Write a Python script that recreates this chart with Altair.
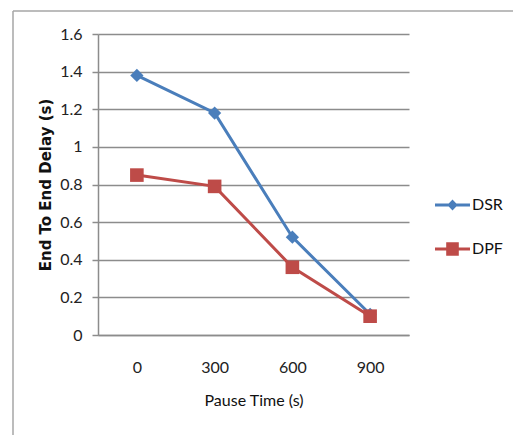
import altair as alt
import pandas as pd

# Average end-to-end delay of two routing protocols against pause time
pause_time = ["0", "300", "600", "900"]
dsr_delay = [1.38, 1.18, 0.52, 0.11]
dpf_delay = [0.85, 0.79, 0.36, 0.10]
protocols = ["DSR", "DPF"]
colors = ["#4a7ebb", "#be4b48"]
marker_shapes = ["diamond", "square"]
marker_sizes = [175, 185]
y_ticks = [0, 0.2, 0.4, 0.6, 0.8, 1.0, 1.2, 1.4, 1.6]

rows = []
for name, series in zip(protocols, [dsr_delay, dpf_delay]):
    for t, v in zip(pause_time, series):
        rows.append({"protocol": name, "pause": t, "delay": v})
df = pd.DataFrame(rows)

LABEL_FONT = "Lato"
GRID = "#8c8c8c"

# Legend glyphs: a short line segment with the series marker on top
legend_glyphs = [
    "M-1,-0.09H1V0.09H-1Z M0,-0.32L0.3,0L0,0.32L-0.3,0Z",
    "M-1,-0.09H1V0.09H-1Z M-0.36,-0.38H0.36V0.38H-0.36Z",
]

x_enc = alt.X(
    "pause:N",
    sort=pause_time,
    scale=alt.Scale(type="point", padding=0.5),
    axis=alt.Axis(
        title="Pause Time (s)",
        labelAngle=0,
        ticks=False,
        grid=False,
        domainColor=GRID,
        domainWidth=1.5,
        labelPadding=24,
        labelFont=LABEL_FONT,
        labelFontSize=16,
        labelColor="#222",
        titleFont=LABEL_FONT,
        titleFontSize=16,
        titleFontWeight="normal",
        titleColor="#111",
        titlePadding=17,
    ),
)
y_enc = alt.Y(
    "delay:Q",
    scale=alt.Scale(domain=[0, 1.6], nice=False),
    axis=alt.Axis(
        title="End To End Delay (s)",
        values=y_ticks,
        format="~g",
        grid=True,
        gridColor=GRID,
        gridWidth=1.5,
        domainColor=GRID,
        domainWidth=1.5,
        tickColor=GRID,
        tickWidth=1.5,
        tickSize=6,
        labelPadding=10,
        labelFont=LABEL_FONT,
        labelFontSize=16,
        labelColor="#222",
        titleFont="DejaVu Sans",
        titleFontSize=15,
        titleFontWeight="bold",
        titleColor="#111",
        titleX=-53,
        titleY=150.5,
        titleAlign="center",
        titleBaseline="middle",
    ),
)
color_scale = alt.Scale(domain=protocols, range=colors)

lines = alt.Chart(df).mark_line(strokeWidth=3).encode(
    x=x_enc,
    y=y_enc,
    color=alt.Color("protocol:N", scale=color_scale, legend=None),
)

points = alt.Chart(df).mark_point(filled=True, opacity=1).encode(
    x=x_enc,
    y=y_enc,
    color=alt.Color("protocol:N", scale=color_scale, legend=None),
    shape=alt.Shape("protocol:N", scale=alt.Scale(domain=protocols, range=marker_shapes), legend=None),
    size=alt.Size("protocol:N", scale=alt.Scale(domain=protocols, range=marker_sizes), legend=None),
)

legend_spec = alt.Legend(
    title=None,
    orient="none",
    legendX=337,
    legendY=153.5,
    padding=0,
    symbolSize=1225,
    symbolStrokeWidth=0,
    rowPadding=18,
    labelOffset=2,
    labelFont=LABEL_FONT,
    labelFontSize=16,
    labelColor="#111",
)
legend_layer = (
    alt.Chart(df)
    .transform_filter("false")
    .mark_point(filled=True, opacity=1)
    .encode(
        x=x_enc,
        y=y_enc,
        color=alt.Color("protocol:N", scale=color_scale, legend=legend_spec),
        shape=alt.Shape("protocol:N", scale=alt.Scale(domain=protocols, range=legend_glyphs), legend=legend_spec),
    )
)

# Chart-area frame (left and top edges)
frame = alt.Data(values=[{}])
frame_left = alt.Chart(frame).mark_rule(color="#a6a6a6", strokeWidth=1.5).encode(
    x=alt.value(-85), y=alt.value(-23), y2=alt.value(401)
)
frame_top = alt.Chart(frame).mark_rule(color="#a6a6a6", strokeWidth=1.5).encode(
    x=alt.value(-85), x2=alt.value(415), y=alt.value(-23)
)

chart = (
    alt.layer(frame_left, frame_top, lines, points, legend_layer)
    .resolve_scale(color="independent", shape="independent", size="independent")
    .properties(
        width=311,
        height=301,
        autosize=alt.AutoSizeParams(type="none"),
        padding={"left": 98, "top": 34, "right": 104, "bottom": 100},
        background="white",
    )
    .configure_view(stroke=None)
)

chart.save("out.html", embed_options={"renderer": "svg", "actions": False})
